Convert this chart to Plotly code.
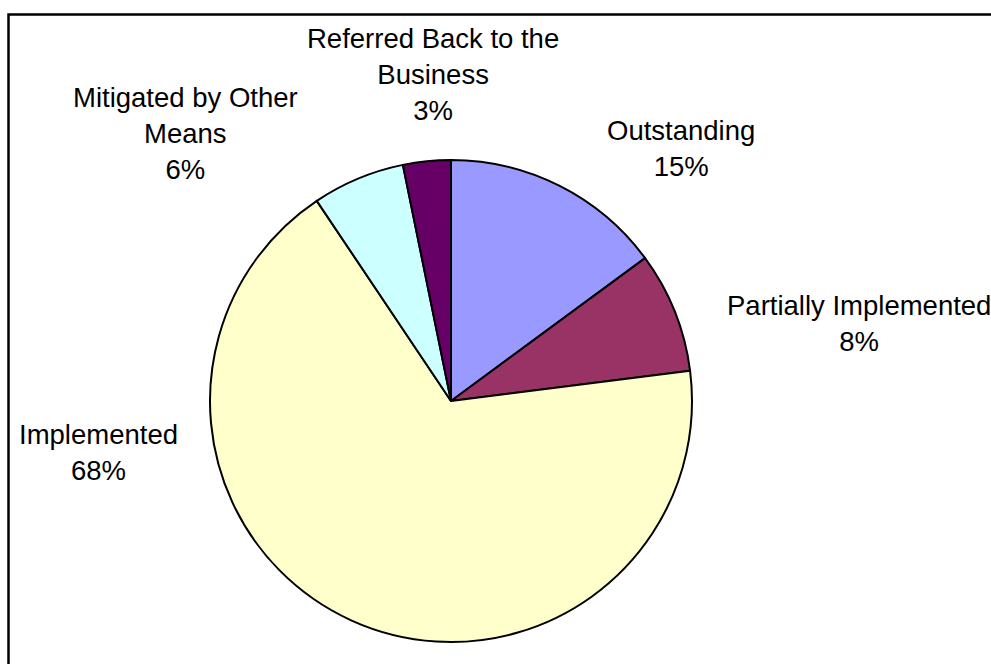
import plotly.graph_objects as go

# ---- data ----
categories = ["Outstanding", "Partially Implemented", "Implemented",
              "Mitigated by Other Means", "Referred Back to the Business"]
label_lines = ["Outstanding", "Partially Implemented", "Implemented",
               "Mitigated by Other<br>Means", "Referred Back to the<br>Business"]
values = [14.9, 8.1, 67.6, 6.2, 3.2]
colors = ["#9999FF", "#993366", "#FFFFCC", "#CCFFFF", "#660066"]

# ---- layout (pixel positions of label centres) ----
W, H = 991, 664
label_pos = [(681, 148), (859, 323), (98, 452), (185, 133), (433, 74)]
cx, cy, r = 451, 401, 241

total = sum(values)
pct_text = [f"{int(v / total * 100 + 0.5)}%" for v in values]

fig = go.Figure(go.Pie(
    labels=categories,
    values=values,
    marker=dict(colors=colors, line=dict(color="black", width=2)),
    sort=False,
    direction="clockwise",
    rotation=0,
    textinfo="none",
    hoverinfo="label+percent",
    showlegend=False,
    domain=dict(x=[(cx - r) / W, (cx + r) / W],
                y=[1 - (cy + r) / H, 1 - (cy - r) / H]),
))

for txt, pct, (px, py) in zip(label_lines, pct_text, label_pos):
    fig.add_annotation(
        x=px / W, y=1 - py / H, xref="paper", yref="paper",
        text=f"{txt}<br>{pct}", showarrow=False,
        xanchor="center", yanchor="middle", align="center",
        font=dict(family="Liberation Sans, Arial, sans-serif", size=27.5, color="black"),
    )

fig.add_shape(type="rect", xref="paper", yref="paper",
              x0=8.5 / W, x1=1.05, y0=-0.05, y1=1 - 14.5 / H,
              line=dict(color="black", width=2.5), fillcolor="rgba(0,0,0,0)")

fig.update_layout(
    width=W, height=H,
    margin=dict(l=0, r=0, t=0, b=0),
    paper_bgcolor="white", plot_bgcolor="white",
)

fig.write_html(
    "out.html",
    config={"displayModeBar": False},
    post_script="document.body.style.margin='0';document.body.style.overflow='hidden';",
)
